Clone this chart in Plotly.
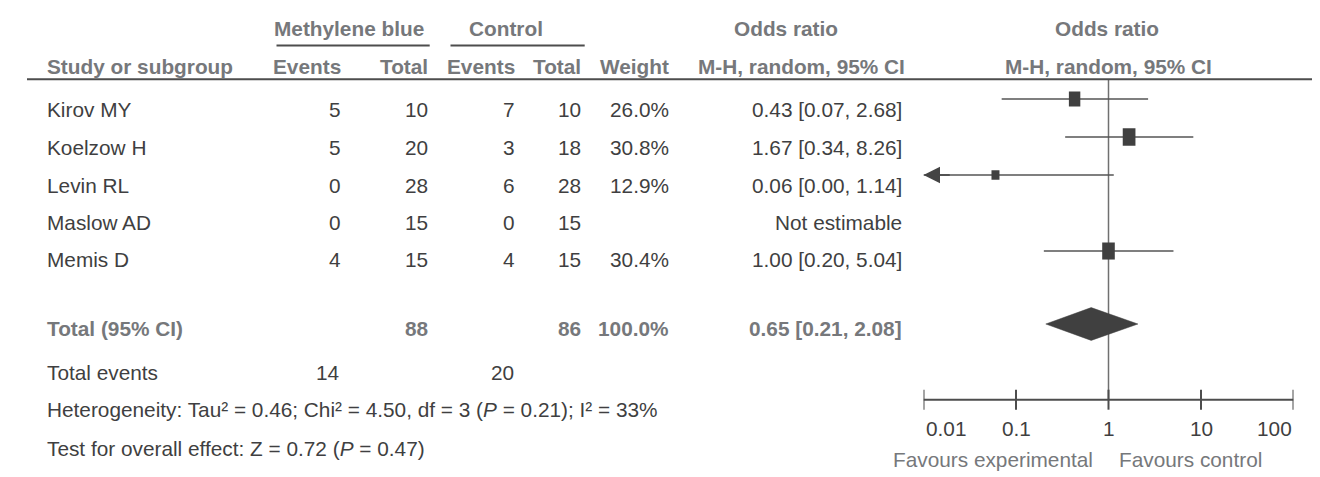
import numpy as np
import plotly.graph_objects as go

# ---------------- data ----------------
studies = ["Kirov MY", "Koelzow H", "Levin RL", "Maslow AD", "Memis D"]
mb_events = [5, 5, 0, 0, 4]
mb_total = [10, 20, 28, 15, 15]
ctrl_events = [7, 3, 6, 0, 4]
ctrl_total = [10, 18, 28, 15, 15]
weights = [26.0, 30.8, 12.9, None, 30.4]
or_est = [0.43, 1.67, 0.06, None, 1.00]
ci_low = [0.07, 0.34, 0.00, None, 0.20]
ci_high = [2.68, 8.26, 1.14, None, 5.04]

total_mb = 88
total_ctrl = 86
total_weight = 100.0
pooled_or = 0.65
pooled_low = 0.21
pooled_high = 2.08
events_mb_sum = 14
events_ctrl_sum = 20
tau2, chi2, df_het, p_het, i2 = 0.46, 4.50, 3, 0.21, 33
z_val, p_overall = 0.72, 0.47

axis_ticks = [0.01, 0.1, 1, 10, 100]
axis_tick_labels = ["0.01", "0.1", "1", "10", "100"]

# ---------------- layout constants ----------------
W, H = 1320, 477
FONT = "Liberation Sans, Arial, sans-serif"
FS = 20.8
BODY = "#3f3f41"
HEAD = "#76787b"
LINE = "#4d4d4d"
MARK = "#404040"

X_LEFT = 37
X_EV_MB, X_TOT_MB, X_EV_C, X_TOT_C, X_WEIGHT, X_OR = 335, 422, 509, 575, 663, 896
X_AX0, X_AX1 = 915.5, 1285.5
X_CENTER = (X_AX0 + X_AX1) / 2

Y_H1, Y_H2, Y_HLINE = 20, 58.3, 71.3
mark_y = [91, 129, 167, 205, 243]       # rows of the plotted marks
text_y = [101, 139, 177, 214, 251]      # rows of the table text
Y_TOTAL, Y_DIAMOND = 320.5, 316
Y_EVENTS, Y_HET, Y_TEST = 364, 401, 440
Y_AXIS, Y_TICKLAB, Y_FAV = 391.7, 420.5, 451.5

fig = go.Figure()
ann = []


def txt(x, y, s, anchor="right", bold=False, color=BODY, size=FS):
    if bold:
        s = "<b>" + s + "</b>"
    ann.append(dict(x=x / W, y=y, xref="paper", yref="y", text=s, showarrow=False,
                    xanchor=anchor, yanchor="middle",
                    font=dict(family=FONT, size=size, color=color)))


# headers
txt(341, Y_H1, "Methylene blue", "center", True, HEAD)
txt(498, Y_H1, "Control", "center", True, HEAD)
txt(778, Y_H1, "Odds ratio", "center", True, HEAD)
txt(X_CENTER - 2, Y_H1, "Odds ratio", "center", True, HEAD)
txt(X_LEFT, Y_H2, "Study or subgroup", "left", True, HEAD)
txt(X_EV_MB, Y_H2, "Events", "right", True, HEAD)
txt(X_TOT_MB, Y_H2, "Total", "right", True, HEAD)
txt(X_EV_C, Y_H2, "Events", "right", True, HEAD)
txt(X_TOT_C, Y_H2, "Total", "right", True, HEAD)
txt(X_WEIGHT, Y_H2, "Weight", "right", True, HEAD)
txt(X_OR + 3, Y_H2, "M-H, random, 95% CI", "right", True, HEAD)
txt(X_CENTER, Y_H2, "M-H, random, 95% CI", "center", True, HEAD)

shapes = []
def pline(x0, y0, x1, y1, color=LINE, width=2):
    shapes.append(dict(type="line", xref="paper", yref="y", x0=x0 / W, x1=x1 / W,
                       y0=y0, y1=y1, line=dict(color=color, width=width)))

pline(268.5, 37.5, 421.7, 37.5)
pline(442.5, 37.5, 576.7, 37.5)
pline(19, Y_HLINE, 1306, Y_HLINE)

# study rows
for i, name in enumerate(studies):
    y = text_y[i]
    txt(X_LEFT, y, name, "left")
    txt(X_EV_MB, y, str(mb_events[i]))
    txt(X_TOT_MB, y, str(mb_total[i]))
    txt(X_EV_C, y, str(ctrl_events[i]))
    txt(X_TOT_C, y, str(ctrl_total[i]))
    if weights[i] is None:
        txt(X_OR, y, "Not estimable")
        continue
    txt(X_WEIGHT, y, f"{weights[i]:.1f}%")
    txt(X_OR, y, f"{or_est[i]:.2f} [{ci_low[i]:.2f}, {ci_high[i]:.2f}]")

# totals
txt(X_LEFT, Y_TOTAL, "Total (95% CI)", "left", True, HEAD)
txt(X_TOT_MB, Y_TOTAL, str(total_mb), "right", True, HEAD)
txt(X_TOT_C, Y_TOTAL, str(total_ctrl), "right", True, HEAD)
txt(X_WEIGHT, Y_TOTAL, f"{total_weight:.1f}%", "right", True, HEAD)
txt(X_OR, Y_TOTAL, f"{pooled_or:.2f} [{pooled_low:.2f}, {pooled_high:.2f}]", "right", True, HEAD)
txt(X_LEFT, Y_EVENTS, "Total events", "left")
txt(X_EV_MB - 2, Y_EVENTS, str(events_mb_sum))
txt(X_EV_C - 1, Y_EVENTS, str(events_ctrl_sum))
txt(X_LEFT, Y_HET,
    f"Heterogeneity: Tau² = {tau2:.2f}; Chi² = {chi2:.2f}, df = {df_het} (<i>P</i> = {p_het:.2f}); I² = {i2}%",
    "left")
txt(X_LEFT, Y_TEST, f"Test for overall effect: Z = {z_val:.2f} (<i>P</i> = {p_overall:.2f})", "left")

# ---------------- forest plot ----------------
lx_min, lx_max = np.log10(axis_ticks[0]), np.log10(axis_ticks[-1])

# line of no effect
fig.add_trace(go.Scatter(x=[0, 0], y=[Y_HLINE, Y_AXIS], mode="lines",
                         line=dict(color="#707070", width=1.5), hoverinfo="skip"))

for i in range(len(studies)):
    if or_est[i] is None:
        continue
    y = mark_y[i]
    lo = np.log10(ci_low[i]) if ci_low[i] > 0 else -np.inf
    hi = np.log10(ci_high[i])
    lo_c = max(lo, lx_min)
    fig.add_trace(go.Scatter(x=[lo_c, hi], y=[y, y], mode="lines",
                             line=dict(color="#555555", width=1.5), hoverinfo="skip"))
    if lo < lx_min:
        ann.append(dict(x=lx_min, y=y, xref="x", yref="y", ax=lx_min + 0.3, ay=y,
                        axref="x", ayref="y", showarrow=True, arrowhead=2, arrowsize=2.2,
                        arrowwidth=1.5, arrowcolor="#444444", standoff=0, text=""))
    w = weights[i]
    bw = 4.6 + 0.263 * w
    bh = 3.5 + 0.447 * w
    shapes.append(dict(type="rect", xref="x", yref="y", xsizemode="pixel", ysizemode="pixel",
                       xanchor=np.log10(or_est[i]), yanchor=y,
                       x0=-bw / 2, x1=bw / 2, y0=-bh / 2, y1=bh / 2,
                       fillcolor=MARK, line=dict(width=0)))

# pooled diamond
dh = 16.4
fig.add_trace(go.Scatter(
    x=[np.log10(pooled_low), np.log10(pooled_or), np.log10(pooled_high), np.log10(pooled_or), np.log10(pooled_low)],
    y=[Y_DIAMOND, Y_DIAMOND - dh, Y_DIAMOND, Y_DIAMOND + dh, Y_DIAMOND],
    mode="lines", fill="toself", fillcolor=MARK, line=dict(color=MARK, width=0.5),
    hoverinfo="skip"))

# axis line and ticks
tx = [np.log10(t) for t in axis_ticks]
fig.add_trace(go.Scatter(x=[lx_min, lx_max], y=[Y_AXIS, Y_AXIS], mode="lines",
                         line=dict(color=LINE, width=2), hoverinfo="skip"))
xs, ys = [], []
for t in tx:
    xs += [t, t, None]
    ys += [Y_AXIS - 10, Y_AXIS + 10, None]
fig.add_trace(go.Scatter(x=xs, y=ys, mode="lines", line=dict(color=LINE, width=2),
                         hoverinfo="skip"))
for k, (t, lab) in enumerate(zip(tx, axis_tick_labels)):
    anchor = "left" if k == 0 else ("right" if k == len(tx) - 1 else "center")
    ann.append(dict(x=t, y=Y_TICKLAB, xref="x", yref="y", text=lab, showarrow=False,
                    xanchor=anchor, yanchor="middle",
                    font=dict(family=FONT, size=FS, color=BODY)))

txt(X_CENTER - 14, Y_FAV, "Favours experimental", "right", False, HEAD)
txt(X_CENTER + 8, Y_FAV, "Favours control", "left", False, HEAD)

fig.update_layout(
    width=W, height=H, margin=dict(l=0, r=0, t=0, b=0),
    paper_bgcolor="white", plot_bgcolor="white", showlegend=False,
    xaxis=dict(domain=[X_AX0 / W, X_AX1 / W], range=[lx_min, lx_max], visible=False,
               fixedrange=True),
    yaxis=dict(domain=[0, 1], range=[H, 0], visible=False, fixedrange=True),
    annotations=ann, shapes=shapes,
)
fig.write_html("out.html")
